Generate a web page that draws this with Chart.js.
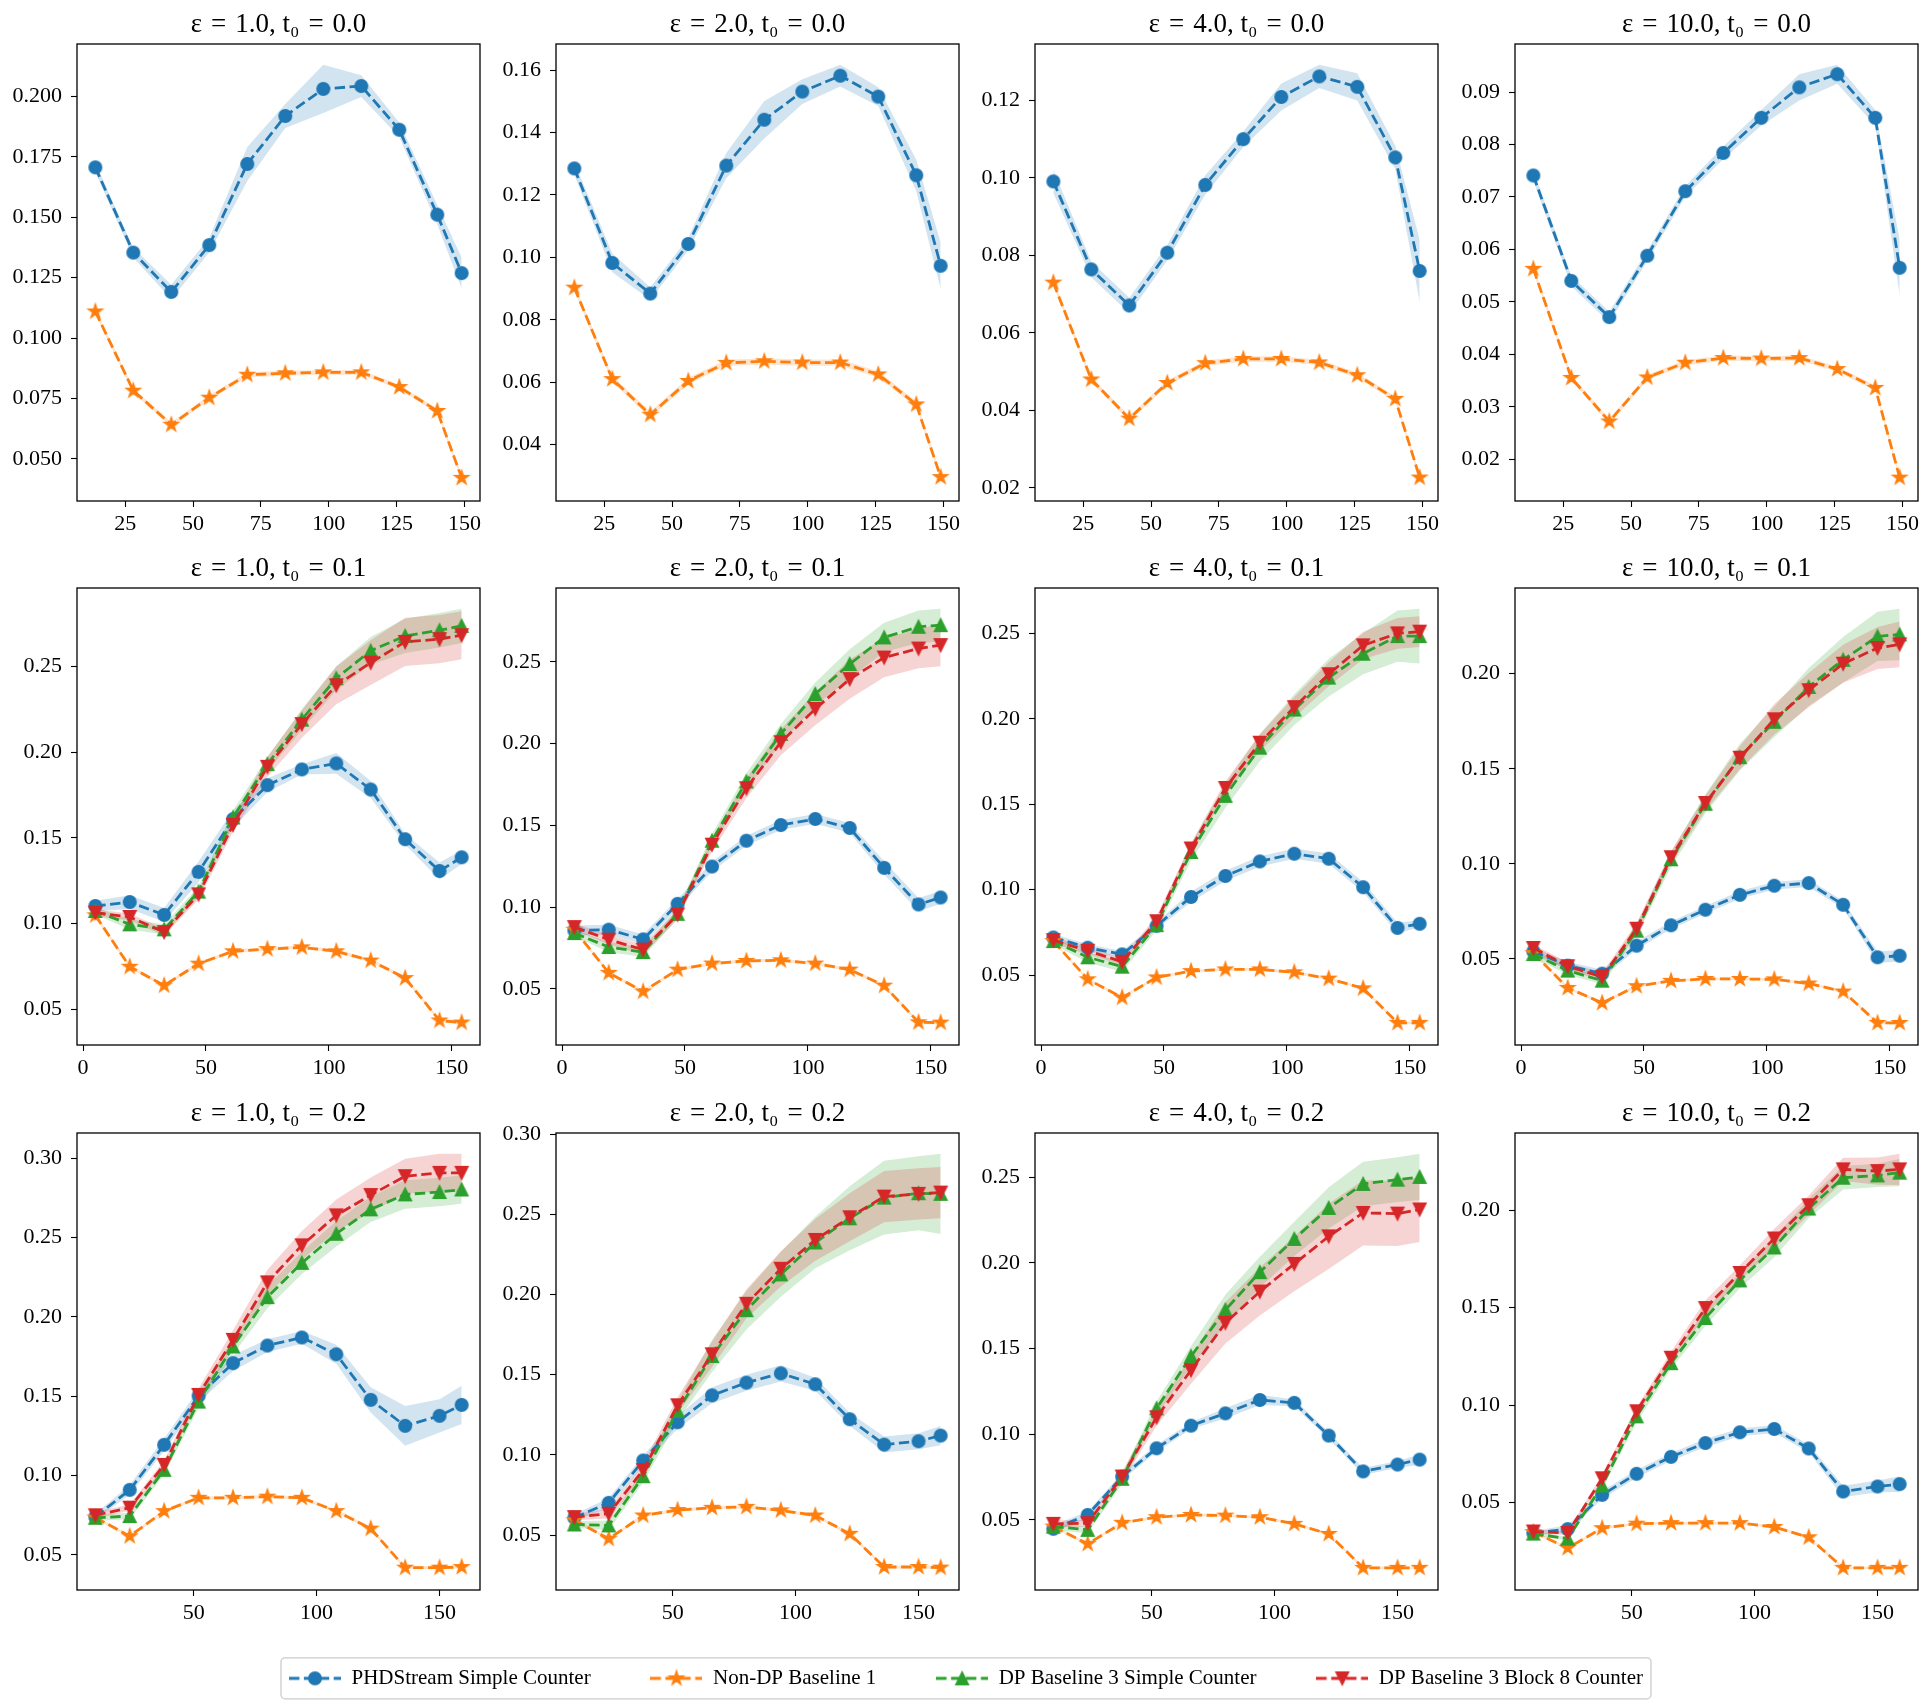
<!DOCTYPE html>
<html>
<head>
<meta charset="utf-8">
<script src="https://cdn.jsdelivr.net/npm/chart.js@4.4.1/dist/chart.umd.min.js"></script>
<style>
html,body{margin:0;padding:0;background:#fff;overflow:hidden;}
#fig{position:relative;width:1932px;height:1707px;overflow:hidden;background:#fff;}
.panel{position:absolute;}
</style>
</head>
<body>
<div id="fig"></div>
<script>
// ---------------- DATA ----------------
const epsilonLabels = ['1.0', '2.0', '4.0', '10.0'];
const t0Labels = ['0.0', '0.1', '0.2'];
const seriesNames = ['PHDStream Simple Counter', 'Non-DP Baseline 1', 'DP Baseline 3 Simple Counter', 'DP Baseline 3 Block 8 Counter'];

const xRow0 = [14, 28, 42, 56, 70, 84, 98, 112, 126, 140, 149];
const xRow1 = [5, 19, 33, 47, 61, 75, 89, 103, 117, 131, 145, 154];
const xRow2 = [10, 24, 38, 52, 66, 80, 94, 108, 122, 136, 150, 159];
const xTickSteps = [25, 50, 50];
const yTickSteps = [[0.025, 0.02, 0.02, 0.01], [0.05, 0.05, 0.05, 0.05], [0.05, 0.05, 0.05, 0.05]];

// t0 = 0.0
const phd_e1_t00 = [0.1707, 0.1354, 0.1191, 0.1385, 0.1721, 0.1920, 0.2032, 0.2044, 0.1863, 0.1511, 0.1269];
const phdErr_e1_t00 = [0.002, 0.002, 0.003, 0.003, 0.007, 0.005, 0.010, 0.0045, 0.003, 0.004, 0.0065];
const base_e1_t00 = [0.1110, 0.0782, 0.0641, 0.0753, 0.0848, 0.0854, 0.0858, 0.0858, 0.0797, 0.0698, 0.0421];
const baseErr_e1_t00 = [0.001, 0.001, 0.001, 0.001, 0.001, 0.001, 0.001, 0.001, 0.001, 0.001, 0.001];

const phd_e2_t00 = [0.1285, 0.0982, 0.0884, 0.1043, 0.1294, 0.1441, 0.1531, 0.1582, 0.1515, 0.1263, 0.0973];
const phdErr_e2_t00 = [0.002, 0.003, 0.002, 0.002, 0.004, 0.006, 0.004, 0.0035, 0.003, 0.005, 0.0075];
const base_e2_t00 = [0.0903, 0.0610, 0.0496, 0.0604, 0.0662, 0.0667, 0.0663, 0.0663, 0.0625, 0.0529, 0.0296];
const baseErr_e2_t00 = [0.001, 0.001, 0.001, 0.001, 0.001, 0.001, 0.001, 0.001, 0.001, 0.001, 0.001];

const phd_e4_t00 = [0.0991, 0.0764, 0.0671, 0.0807, 0.0982, 0.1100, 0.1209, 0.1262, 0.1235, 0.1053, 0.0760];
const phdErr_e4_t00 = [0.003, 0.002, 0.002, 0.002, 0.0025, 0.002, 0.0035, 0.003, 0.0035, 0.003, 0.008];
const base_e4_t00 = [0.0730, 0.0480, 0.0379, 0.0471, 0.0522, 0.0533, 0.0533, 0.0524, 0.0491, 0.0430, 0.0227];
const baseErr_e4_t00 = [0.0007, 0.0007, 0.0007, 0.0007, 0.0007, 0.0007, 0.0007, 0.0007, 0.0007, 0.0007, 0.0007];

const phd_e10_t00 = [0.0741, 0.0540, 0.0471, 0.0588, 0.0711, 0.0784, 0.0851, 0.0909, 0.0934, 0.0851, 0.0565];
const phdErr_e10_t00 = [0.001, 0.001, 0.001, 0.001, 0.001, 0.0012, 0.0015, 0.0025, 0.0018, 0.0015, 0.0053];
const base_e10_t00 = [0.0563, 0.0355, 0.0272, 0.0356, 0.0384, 0.0393, 0.0392, 0.0393, 0.0372, 0.0336, 0.0165];
const baseErr_e10_t00 = [0.0005, 0.0005, 0.0005, 0.0005, 0.0005, 0.0005, 0.0005, 0.0005, 0.0005, 0.0005, 0.0005];

// t0 = 0.1
const phd_e1_t01 = [0.1103, 0.1126, 0.1051, 0.1302, 0.1609, 0.1807, 0.1899, 0.1934, 0.1782, 0.1492, 0.1307, 0.1387];
const phdErr_e1_t01 = [0.003, 0.004, 0.004, 0.006, 0.005, 0.004, 0.003, 0.006, 0.005, 0.003, 0.005, 0.004];
const base_e1_t01 = [0.1049, 0.0749, 0.0640, 0.0767, 0.0839, 0.0852, 0.0862, 0.0839, 0.0785, 0.0683, 0.0436, 0.0424];
const baseErr_e1_t01 = [0.001, 0.001, 0.001, 0.001, 0.001, 0.001, 0.001, 0.001, 0.001, 0.001, 0.001, 0.001];
const simple_e1_t01 = [0.1074, 0.0996, 0.0967, 0.1187, 0.1619, 0.1930, 0.2189, 0.2430, 0.2590, 0.2677, 0.2710, 0.2735];
const simpleErr_e1_t01 = [0.002, 0.003, 0.003, 0.003, 0.004, 0.004, 0.006, 0.007, 0.008, 0.010, 0.010, 0.010];
const block_e1_t01 = [0.1064, 0.1039, 0.0951, 0.1171, 0.1576, 0.1914, 0.2163, 0.2389, 0.2521, 0.2642, 0.2658, 0.2681];
const blockErr_e1_t01 = [0.002, 0.002, 0.002, 0.003, 0.004, 0.006, 0.008, 0.011, 0.013, 0.014, 0.014, 0.014];

const phd_e2_t01 = [0.0858, 0.0862, 0.0803, 0.1020, 0.1248, 0.1406, 0.1502, 0.1539, 0.1484, 0.1240, 0.1016, 0.1059];
const phdErr_e2_t01 = [0.003, 0.003, 0.003, 0.003, 0.003, 0.003, 0.003, 0.003, 0.003, 0.004, 0.004, 0.004];
const base_e2_t01 = [0.0862, 0.0598, 0.0484, 0.0618, 0.0655, 0.0671, 0.0675, 0.0655, 0.0618, 0.0520, 0.0296, 0.0294];
const baseErr_e2_t01 = [0.001, 0.001, 0.001, 0.001, 0.001, 0.001, 0.001, 0.001, 0.001, 0.001, 0.001, 0.001];
const simple_e2_t01 = [0.0841, 0.0756, 0.0725, 0.0959, 0.1406, 0.1768, 0.2059, 0.2303, 0.2486, 0.2649, 0.2714, 0.2724];
const simpleErr_e2_t01 = [0.002, 0.003, 0.003, 0.003, 0.004, 0.005, 0.006, 0.007, 0.009, 0.009, 0.010, 0.010];
const block_e2_t01 = [0.0878, 0.0801, 0.0740, 0.0955, 0.1382, 0.1727, 0.2008, 0.2212, 0.2394, 0.2526, 0.2581, 0.2602];
const blockErr_e2_t01 = [0.002, 0.003, 0.003, 0.003, 0.004, 0.006, 0.008, 0.010, 0.012, 0.012, 0.012, 0.013];

const phd_e4_t01 = [0.0720, 0.0660, 0.0621, 0.0788, 0.0957, 0.1080, 0.1165, 0.1210, 0.1181, 0.1014, 0.0776, 0.0800];
const phdErr_e4_t01 = [0.002, 0.002, 0.002, 0.002, 0.003, 0.003, 0.003, 0.003, 0.003, 0.003, 0.003, 0.002];
const base_e4_t01 = [0.0699, 0.0475, 0.0368, 0.0486, 0.0523, 0.0533, 0.0533, 0.0516, 0.0479, 0.0422, 0.0220, 0.0220];
const baseErr_e4_t01 = [0.0008, 0.0008, 0.0008, 0.0008, 0.0008, 0.0008, 0.0008, 0.0008, 0.0008, 0.0008, 0.0008, 0.0008];
const simple_e4_t01 = [0.0699, 0.0604, 0.0549, 0.0792, 0.1220, 0.1549, 0.1831, 0.2054, 0.2241, 0.2381, 0.2484, 0.2484];
const simpleErr_e4_t01 = [0.002, 0.003, 0.003, 0.003, 0.005, 0.007, 0.008, 0.009, 0.011, 0.012, 0.015, 0.016];
const block_e4_t01 = [0.0704, 0.0642, 0.0578, 0.0815, 0.1241, 0.1595, 0.1860, 0.2068, 0.2261, 0.2430, 0.2500, 0.2510];
const blockErr_e4_t01 = [0.002, 0.002, 0.002, 0.003, 0.003, 0.004, 0.005, 0.006, 0.007, 0.008, 0.009, 0.009];

const phd_e10_t01 = [0.0540, 0.0465, 0.0423, 0.0570, 0.0677, 0.0759, 0.0837, 0.0885, 0.0899, 0.0785, 0.0509, 0.0517];
const phdErr_e10_t01 = [0.002, 0.002, 0.002, 0.002, 0.002, 0.002, 0.002, 0.002, 0.002, 0.002, 0.003, 0.003];
const base_e10_t01 = [0.0531, 0.0348, 0.0269, 0.0357, 0.0385, 0.0395, 0.0395, 0.0393, 0.0371, 0.0329, 0.0164, 0.0164];
const baseErr_e10_t01 = [0.0007, 0.0007, 0.0007, 0.0007, 0.0007, 0.0007, 0.0007, 0.0007, 0.0007, 0.0007, 0.0007, 0.0007];
const simple_e10_t01 = [0.0526, 0.0439, 0.0386, 0.0649, 0.1024, 0.1316, 0.1561, 0.1747, 0.1930, 0.2073, 0.2196, 0.2206];
const simpleErr_e10_t01 = [0.002, 0.002, 0.002, 0.003, 0.004, 0.005, 0.007, 0.008, 0.010, 0.012, 0.013, 0.0135];
const block_e10_t01 = [0.0558, 0.0462, 0.0406, 0.0659, 0.1035, 0.1320, 0.1558, 0.1760, 0.1913, 0.2052, 0.2135, 0.2154];
const blockErr_e10_t01 = [0.002, 0.002, 0.002, 0.003, 0.003, 0.004, 0.006, 0.008, 0.009, 0.010, 0.011, 0.012];

// t0 = 0.2
const phd_e1_t02 = [0.0740, 0.0910, 0.1194, 0.1502, 0.1708, 0.1819, 0.1870, 0.1764, 0.1477, 0.1313, 0.1376, 0.1445];
const phdErr_e1_t02 = [0.002, 0.003, 0.004, 0.004, 0.005, 0.004, 0.004, 0.006, 0.008, 0.0125, 0.0105, 0.012];
const base_e1_t02 = [0.0736, 0.0618, 0.0776, 0.0860, 0.0860, 0.0867, 0.0860, 0.0776, 0.0666, 0.0420, 0.0420, 0.0424];
const baseErr_e1_t02 = [0.001, 0.001, 0.001, 0.001, 0.001, 0.001, 0.001, 0.001, 0.001, 0.001, 0.001, 0.001];
const simple_e1_t02 = [0.0734, 0.0745, 0.1036, 0.1466, 0.1813, 0.2124, 0.2340, 0.2523, 0.2677, 0.2771, 0.2786, 0.2802];
const simpleErr_e1_t02 = [0.002, 0.002, 0.003, 0.004, 0.005, 0.007, 0.007, 0.008, 0.008, 0.009, 0.009, 0.009];
const block_e1_t02 = [0.0750, 0.0798, 0.1067, 0.1508, 0.1855, 0.2217, 0.2450, 0.2639, 0.2767, 0.2886, 0.2907, 0.2907];
const blockErr_e1_t02 = [0.002, 0.002, 0.003, 0.004, 0.006, 0.008, 0.009, 0.010, 0.011, 0.011, 0.012, 0.012];

const phd_e2_t02 = [0.0608, 0.0701, 0.0965, 0.1203, 0.1371, 0.1450, 0.1508, 0.1440, 0.1222, 0.1064, 0.1085, 0.1120];
const phdErr_e2_t02 = [0.002, 0.003, 0.003, 0.004, 0.005, 0.005, 0.005, 0.004, 0.004, 0.005, 0.005, 0.006];
const base_e2_t02 = [0.0593, 0.0477, 0.0622, 0.0656, 0.0670, 0.0676, 0.0654, 0.0622, 0.0508, 0.0301, 0.0301, 0.0297];
const baseErr_e2_t02 = [0.001, 0.001, 0.001, 0.001, 0.001, 0.001, 0.001, 0.001, 0.001, 0.001, 0.001, 0.001];
const simple_e2_t02 = [0.0566, 0.0560, 0.0867, 0.1274, 0.1616, 0.1902, 0.2125, 0.2324, 0.2475, 0.2604, 0.2631, 0.2627];
const simpleErr_e2_t02 = [0.002, 0.003, 0.004, 0.006, 0.010, 0.012, 0.014, 0.016, 0.020, 0.023, 0.023, 0.025];
const block_e2_t02 = [0.0612, 0.0633, 0.0905, 0.1309, 0.1627, 0.1942, 0.2160, 0.2340, 0.2481, 0.2610, 0.2627, 0.2635];
const blockErr_e2_t02 = [0.002, 0.003, 0.004, 0.005, 0.008, 0.009, 0.011, 0.013, 0.015, 0.016, 0.016, 0.016];

const phd_e4_t02 = [0.0448, 0.0529, 0.0753, 0.0918, 0.1050, 0.1122, 0.1200, 0.1183, 0.0992, 0.0783, 0.0823, 0.0852];
const phdErr_e4_t02 = [0.002, 0.002, 0.002, 0.002, 0.002, 0.003, 0.003, 0.002, 0.002, 0.002, 0.002, 0.003];
const base_e4_t02 = [0.0461, 0.0360, 0.0483, 0.0516, 0.0529, 0.0525, 0.0516, 0.0477, 0.0418, 0.0220, 0.0220, 0.0220];
const baseErr_e4_t02 = [0.0008, 0.0008, 0.0008, 0.0008, 0.0008, 0.0008, 0.0008, 0.0008, 0.0008, 0.0008, 0.0008, 0.0008];
const simple_e4_t02 = [0.0461, 0.0442, 0.0740, 0.1151, 0.1455, 0.1726, 0.1946, 0.2140, 0.2321, 0.2461, 0.2486, 0.2502];
const simpleErr_e4_t02 = [0.002, 0.002, 0.003, 0.004, 0.006, 0.009, 0.009, 0.010, 0.012, 0.013, 0.013, 0.0135];
const block_e4_t02 = [0.0477, 0.0481, 0.0753, 0.1099, 0.1374, 0.1650, 0.1833, 0.1994, 0.2155, 0.2292, 0.2288, 0.2312];
const blockErr_e4_t02 = [0.002, 0.002, 0.003, 0.005, 0.008, 0.012, 0.014, 0.016, 0.019, 0.019, 0.019, 0.019];

const phd_e10_t02 = [0.0343, 0.0363, 0.0539, 0.0647, 0.0734, 0.0805, 0.0860, 0.0877, 0.0777, 0.0556, 0.0582, 0.0594];
const phdErr_e10_t02 = [0.001, 0.002, 0.002, 0.002, 0.002, 0.002, 0.002, 0.002, 0.002, 0.003, 0.003, 0.004];
const base_e10_t02 = [0.0348, 0.0266, 0.0368, 0.0391, 0.0394, 0.0394, 0.0394, 0.0374, 0.0321, 0.0164, 0.0164, 0.0164];
const baseErr_e10_t02 = [0.0007, 0.0007, 0.0007, 0.0007, 0.0007, 0.0007, 0.0007, 0.0007, 0.0007, 0.0007, 0.0007, 0.0007];
const simple_e10_t02 = [0.0340, 0.0314, 0.0587, 0.0942, 0.1215, 0.1447, 0.1640, 0.1809, 0.2009, 0.2167, 0.2179, 0.2193];
const simpleErr_e10_t02 = [0.001, 0.001, 0.002, 0.003, 0.003, 0.004, 0.004, 0.005, 0.005, 0.006, 0.006, 0.007];
const block_e10_t02 = [0.0351, 0.0343, 0.0624, 0.0968, 0.1243, 0.1498, 0.1678, 0.1855, 0.2026, 0.2210, 0.2201, 0.2210];
const blockErr_e10_t02 = [0.001, 0.001, 0.002, 0.002, 0.003, 0.004, 0.004, 0.005, 0.005, 0.006, 0.007, 0.008];

// panel table built from the arrays above: [seriesIndex, mean, err]
const panels = [
  {row: 0, col: 0, x: xRow0, series: [[0, phd_e1_t00, phdErr_e1_t00], [1, base_e1_t00, baseErr_e1_t00]]},
  {row: 0, col: 1, x: xRow0, series: [[0, phd_e2_t00, phdErr_e2_t00], [1, base_e2_t00, baseErr_e2_t00]]},
  {row: 0, col: 2, x: xRow0, series: [[0, phd_e4_t00, phdErr_e4_t00], [1, base_e4_t00, baseErr_e4_t00]]},
  {row: 0, col: 3, x: xRow0, series: [[0, phd_e10_t00, phdErr_e10_t00], [1, base_e10_t00, baseErr_e10_t00]]},
  {row: 1, col: 0, x: xRow1, series: [[0, phd_e1_t01, phdErr_e1_t01], [1, base_e1_t01, baseErr_e1_t01], [2, simple_e1_t01, simpleErr_e1_t01], [3, block_e1_t01, blockErr_e1_t01]]},
  {row: 1, col: 1, x: xRow1, series: [[0, phd_e2_t01, phdErr_e2_t01], [1, base_e2_t01, baseErr_e2_t01], [2, simple_e2_t01, simpleErr_e2_t01], [3, block_e2_t01, blockErr_e2_t01]]},
  {row: 1, col: 2, x: xRow1, series: [[0, phd_e4_t01, phdErr_e4_t01], [1, base_e4_t01, baseErr_e4_t01], [2, simple_e4_t01, simpleErr_e4_t01], [3, block_e4_t01, blockErr_e4_t01]]},
  {row: 1, col: 3, x: xRow1, series: [[0, phd_e10_t01, phdErr_e10_t01], [1, base_e10_t01, baseErr_e10_t01], [2, simple_e10_t01, simpleErr_e10_t01], [3, block_e10_t01, blockErr_e10_t01]]},
  {row: 2, col: 0, x: xRow2, series: [[0, phd_e1_t02, phdErr_e1_t02], [1, base_e1_t02, baseErr_e1_t02], [2, simple_e1_t02, simpleErr_e1_t02], [3, block_e1_t02, blockErr_e1_t02]]},
  {row: 2, col: 1, x: xRow2, series: [[0, phd_e2_t02, phdErr_e2_t02], [1, base_e2_t02, baseErr_e2_t02], [2, simple_e2_t02, simpleErr_e2_t02], [3, block_e2_t02, blockErr_e2_t02]]},
  {row: 2, col: 2, x: xRow2, series: [[0, phd_e4_t02, phdErr_e4_t02], [1, base_e4_t02, baseErr_e4_t02], [2, simple_e4_t02, simpleErr_e4_t02], [3, block_e4_t02, blockErr_e4_t02]]},
  {row: 2, col: 3, x: xRow2, series: [[0, phd_e10_t02, phdErr_e10_t02], [1, base_e10_t02, baseErr_e10_t02], [2, simple_e10_t02, simpleErr_e10_t02], [3, block_e10_t02, blockErr_e10_t02]]}
];

// ---------------- STYLE / LAYOUT ----------------
const seriesColors = ['#1f77b4', '#ff7f0e', '#2ca02c', '#d62728'];
const bandColors = ['rgba(31,119,180,0.2)', 'rgba(255,127,14,0.2)', 'rgba(44,160,44,0.2)', 'rgba(214,39,40,0.2)'];
const markerKinds = ['circle', 'star', 'up', 'down'];
const FONT = '"Liberation Serif", "DejaVu Serif", serif';
const plotLeft = [77, 556, 1035, 1515];
const plotTop = [44, 588, 1133];
const plotW = 403, plotH = 457;
const yAxisW = 76, titleH = 40, xAxisH = 45, padRight = 20;
const tickFont = 22, titleFont = 27, legendFontSize = 21;
const lineW = 2.8;
const lineDash = [10.4, 4.5];

Chart.defaults.font.family = FONT;
Chart.defaults.color = '#000';

function markerPath(g, kind, cx, cy) {
  g.beginPath();
  if (kind === 'circle') {
    g.arc(cx, cy, 6.2, 0, Math.PI * 2);
  } else if (kind === 'star') {
    const R = 7.0, r = R * 0.381966;
    for (let i = 0; i < 10; i++) {
      const a = -Math.PI / 2 + i * Math.PI / 5;
      const rr = (i % 2) ? r : R;
      const px = cx + rr * Math.cos(a), py = cy + rr * Math.sin(a);
      if (i) g.lineTo(px, py); else g.moveTo(px, py);
    }
    g.closePath();
  } else if (kind === 'up') {
    const h = 6.2;
    g.moveTo(cx, cy - h); g.lineTo(cx + h, cy + h); g.lineTo(cx - h, cy + h); g.closePath();
  } else {
    const h = 6.2;
    g.moveTo(cx, cy + h); g.lineTo(cx + h, cy - h); g.lineTo(cx - h, cy - h); g.closePath();
  }
}
function makeMarker(kind, color) {
  const s = 22, c = document.createElement('canvas');
  c.width = s; c.height = s;
  const g = c.getContext('2d');
  g.fillStyle = color; g.strokeStyle = color; g.lineWidth = 1.6; g.lineJoin = 'miter';
  markerPath(g, kind, s / 2, s / 2);
  g.fill(); g.stroke();
  return c;
}
function makeHandle(kind, color) {
  const w = 52, h = 22, c = document.createElement('canvas');
  c.width = w; c.height = h;
  const g = c.getContext('2d');
  g.strokeStyle = color; g.lineWidth = lineW; g.setLineDash(lineDash);
  g.beginPath(); g.moveTo(0, h / 2); g.lineTo(w, h / 2); g.stroke();
  g.setLineDash([]);
  g.fillStyle = color; g.lineWidth = 1.6;
  markerPath(g, kind, w / 2, h / 2);
  g.fill(); g.stroke();
  return c;
}
const markers = markerKinds.map((k, i) => makeMarker(k, seriesColors[i]));
const handles = markerKinds.map((k, i) => makeHandle(k, seriesColors[i]));

const framePlugin = {
  id: 'frame',
  afterDraw(chart) {
    const a = chart.chartArea, ctx = chart.ctx;
    ctx.save();
    ctx.strokeStyle = '#000';
    ctx.lineWidth = 1.3;
    ctx.strokeRect(a.left, a.top, a.right - a.left, a.bottom - a.top);
    ctx.restore();
  }
};

function decimalsOf(step) {
  const s = String(step);
  return s.indexOf('.') >= 0 ? s.split('.')[1].length : 0;
}
// ticks at multiples of the step inside the axis range (like matplotlib)
function stepTicks(step) {
  return scale => {
    const out = [];
    const k0 = Math.ceil(scale.min / step - 1e-9), k1 = Math.floor(scale.max / step + 1e-9);
    for (let k = k0; k <= k1; k++) out.push({value: +(k * step).toFixed(8)});
    scale.ticks = out;
  };
}

const fig = document.getElementById('fig');
const SP = '\u2004';

panels.forEach(p => {
  const L = plotLeft[p.col], T = plotTop[p.row];
  const div = document.createElement('div');
  div.className = 'panel';
  div.style.left = (L - yAxisW) + 'px';
  div.style.top = (T - titleH) + 'px';
  div.style.width = (yAxisW + plotW + padRight) + 'px';
  div.style.height = (titleH + plotH + xAxisH) + 'px';
  const cv = document.createElement('canvas');
  div.appendChild(cv);
  fig.appendChild(div);

  const datasets = [];
  let lo = Infinity, hi = -Infinity;
  p.series.forEach(([k, m, e]) => {
    m.forEach((v, i) => { lo = Math.min(lo, v - e[i]); hi = Math.max(hi, v + e[i]); });
    datasets.push({
      data: p.x.map((x, i) => ({x: x, y: m[i] - e[i]})),
      borderWidth: 0, pointRadius: 0, fill: false, order: 40 - k
    });
    datasets.push({
      data: p.x.map((x, i) => ({x: x, y: m[i] + e[i]})),
      borderWidth: 0, pointRadius: 0, fill: '-1', backgroundColor: bandColors[k], order: 40 - k
    });
  });
  p.series.forEach(([k, m]) => {
    datasets.push({
      label: seriesNames[k],
      data: p.x.map((x, i) => ({x: x, y: m[i]})),
      borderColor: seriesColors[k],
      backgroundColor: seriesColors[k],
      borderWidth: lineW,
      borderDash: lineDash,
      pointStyle: markers[k],
      pointRadius: 6,
      pointHoverRadius: 6,
      fill: false,
      tension: 0,
      order: 4 - k
    });
  });

  const yPad = (hi - lo) * 0.05;
  const xMin = Math.min(...p.x), xMax = Math.max(...p.x);
  const xPad = (xMax - xMin) * 0.05;
  const yStep = yTickSteps[p.row][p.col];
  const yDec = decimalsOf(yStep);
  const xStep = xTickSteps[p.row];
  const tPadBottom = 19 - titleFont * 1.2 / 2;
  const tPadTop = titleH - titleFont * 1.2 - tPadBottom;

  new Chart(cv, {
    type: 'line',
    data: {datasets: datasets},
    plugins: [framePlugin],
    options: {
      responsive: true,
      maintainAspectRatio: false,
      animation: false,
      events: [],
      layout: {padding: {left: 0, top: 0, right: padRight, bottom: 0}},
      plugins: {
        legend: {display: false},
        tooltip: {enabled: false},
        title: {
          display: true,
          fullSize: false,
          text: 'ε' + SP + '=' + SP + epsilonLabels[p.col] + ', t₀' + SP + '=' + SP + t0Labels[p.row],
          color: '#000',
          font: {family: FONT, size: titleFont, weight: 'normal', lineHeight: 1.2},
          padding: {top: tPadTop, bottom: tPadBottom}
        }
      },
      scales: {
        x: {
          type: 'linear',
          min: xMin - xPad,
          max: xMax + xPad,
          bounds: 'data',
          afterBuildTicks: stepTicks(xStep),
          ticks: {
            autoSkip: false, maxRotation: 0,
            font: {family: FONT, size: tickFont}, color: '#000', padding: 4,
            callback: v => Number(v).toFixed(0)
          },
          grid: {display: true, drawOnChartArea: false, drawTicks: true, tickLength: 6, tickColor: '#000', tickWidth: 1.1},
          border: {display: false},
          afterFit: s => { s.height = xAxisH; }
        },
        y: {
          type: 'linear',
          min: lo - yPad,
          max: hi + yPad,
          bounds: 'data',
          afterBuildTicks: stepTicks(yStep),
          ticks: {
            autoSkip: false,
            font: {family: FONT, size: tickFont}, color: '#000', padding: 9,
            callback: v => Number(v).toFixed(yDec)
          },
          grid: {display: true, drawOnChartArea: false, drawTicks: true, tickLength: 6, tickColor: '#000', tickWidth: 1.1},
          border: {display: false},
          afterFit: s => { s.width = yAxisW; }
        }
      }
    }
  });
});

// ---------------- LEGEND ----------------
const mctx = document.createElement('canvas').getContext('2d');
mctx.font = legendFontSize + 'px ' + FONT;
const handleW = 52;
const itemsW = seriesNames.reduce((s, n) => s + handleW + legendFontSize / 2 + mctx.measureText(n).width, 0);
const legendSpan = 1354;
const legendGap = Math.max(12, (legendSpan - itemsW) / (seriesNames.length - 1));
const legendCenterY = 1678;

const legendFrame = {
  id: 'legendFrame',
  beforeDraw(chart) {
    const hb = chart.legend && chart.legend.legendHitBoxes;
    if (!hb || !hb.length) return;
    const first = hb[0], last = hb[hb.length - 1];
    const x0 = first.left - 8, x1 = last.left + last.width + 8;
    const cy = first.top + first.height / 2;
    const y0 = cy - 20.5, y1 = cy + 20.5;
    const ctx = chart.ctx;
    ctx.save();
    ctx.beginPath();
    if (ctx.roundRect) ctx.roundRect(x0, y0, x1 - x0, y1 - y0, 4); else ctx.rect(x0, y0, x1 - x0, y1 - y0);
    ctx.fillStyle = 'rgba(255,255,255,0.8)';
    ctx.fill();
    ctx.strokeStyle = '#cccccc';
    ctx.lineWidth = 1.3;
    ctx.stroke();
    ctx.restore();
  }
};

const ldiv = document.createElement('div');
ldiv.className = 'panel';
ldiv.style.left = '0px';
ldiv.style.top = (legendCenterY - legendFontSize / 2 - legendGap) + 'px';
ldiv.style.width = '1932px';
ldiv.style.height = Math.ceil(4 * legendGap + 4 * legendFontSize) + 'px';
const lcv = document.createElement('canvas');
ldiv.appendChild(lcv);
fig.appendChild(ldiv);

new Chart(lcv, {
  type: 'line',
  data: {datasets: seriesNames.map((n, i) => ({label: n, data: [], borderColor: seriesColors[i], backgroundColor: seriesColors[i], pointStyle: handles[i]}))},
  plugins: [legendFrame],
  options: {
    responsive: true,
    maintainAspectRatio: false,
    animation: false,
    events: [],
    layout: {padding: 0},
    scales: {x: {display: false}, y: {display: false}},
    plugins: {
      tooltip: {enabled: false},
      title: {display: false},
      legend: {
        display: true,
        position: 'top',
        align: 'center',
        labels: {
          usePointStyle: true,
          pointStyleWidth: handleW,
          padding: legendGap,
          color: '#000',
          font: {family: FONT, size: legendFontSize},
          generateLabels: () => seriesNames.map((n, i) => ({
            text: n, fillStyle: seriesColors[i], strokeStyle: seriesColors[i], lineWidth: 0,
            pointStyle: handles[i], hidden: false, datasetIndex: i, fontColor: '#000'
          }))
        }
      }
    }
  }
});
</script>
</body>
</html>
